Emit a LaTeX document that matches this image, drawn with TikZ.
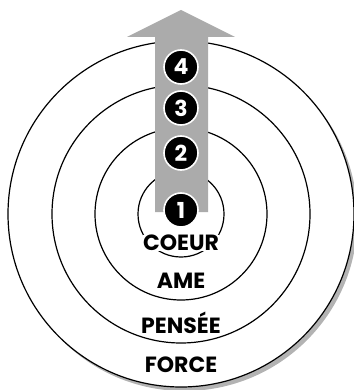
\documentclass[tikz,border=0pt]{standalone}
\usepackage{fontspec}
\newfontfamily\ringfont{Poppins}
\usepackage{tikz}
\usetikzlibrary{shadows}

\begin{document}
\begin{tikzpicture}[x=1pt, y=-1pt,
    ring/.style={draw, circle, line width=1.2pt, inner sep=0pt},
    badge/.style={circle, fill=black, draw=white, line width=1.6pt, minimum size=34pt,
        inner sep=0pt, text=white, font=\ringfont\bfseries\fontsize{22}{22}\selectfont},
    ringlabel/.style={fill=white, inner sep=0.5pt, font=\ringfont\bfseries\fontsize{22}{22}\selectfont}]
    \useasboundingbox (0,0) rectangle (353,390);

    % Rings, outer one with a shadow
    \node[ring, fill=white, minimum size=346pt,
        drop shadow={shadow xshift=3.5pt, shadow yshift=-4pt, opacity=0.6}] (force) at (181,214) {};
    \node[ring, minimum size=258pt] (pensee) at (181,214) {};
    \node[ring, minimum size=172pt] (ame) at (181,214) {};
    \node[ring, minimum size=86pt] (coeur) at (181,214) {};

    % Big grey arrow going up
    \fill[black!33] (155,212) -- (155,37) -- (127,37) -- (181,10)
        -- (235,37) -- (208,37) -- (208,212) -- cycle;

    % Numbered steps on the arrow
    \node[badge] (n1) at (181,210) {1};
    \node[badge] (n2) at (181,153) {2};
    \node[badge] (n3) at (181,108) {3};
    \node[badge] (n4) at (181,67) {4};

    % Ring names
    \node[ringlabel] (lcoeur) at (181,243) {COEUR};
    \node[ringlabel] (lame) at (181,281) {AME};
    \node[ringlabel] (lpensee) at (181,323) {PENSÉE};
    \node[ringlabel] (lforce) at (181,365) {FORCE};

\end{tikzpicture}
\end{document}
